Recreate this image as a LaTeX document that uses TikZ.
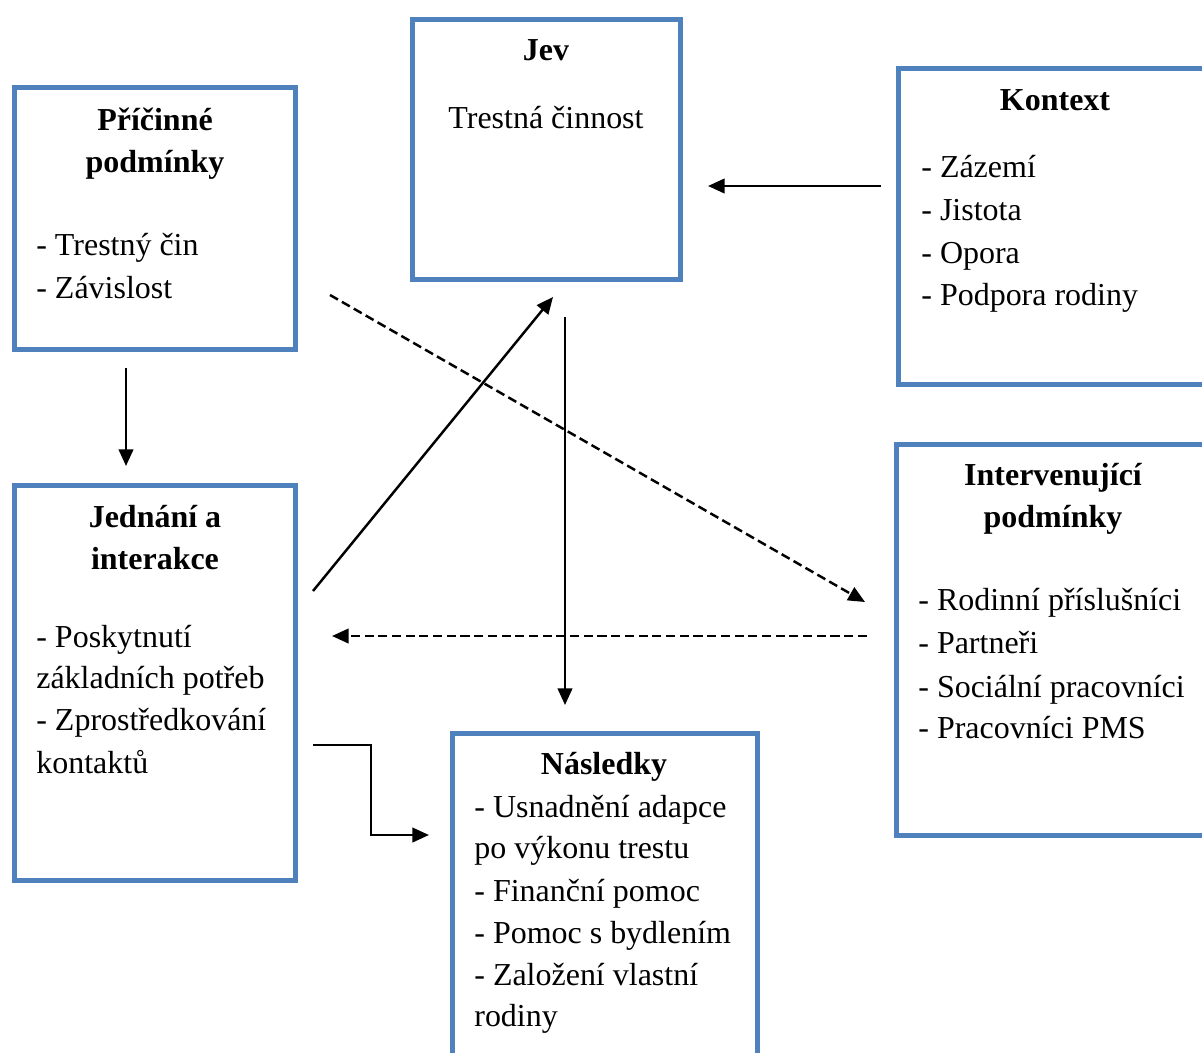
\documentclass[tikz,border=0pt]{standalone}
\usepackage{fontspec}
\setmainfont{Liberation Serif}
\usetikzlibrary{arrows.meta,fit}
\definecolor{boxblue}{RGB}{79,129,189}
\begin{document}
\begin{tikzpicture}[x=0.02cm,y=-0.02cm,
  box/.style={draw=boxblue,line width=2.85pt,inner sep=0pt},
  txt/.style={font=\fontsize{18.2}{22}\selectfont,inner sep=0pt},
  ttl/.style={font=\fontsize{18.2}{22}\selectfont\bfseries,inner sep=0pt,anchor=base},
  item/.style={txt,anchor=base west},
  arr/.style={line width=1.4pt,-{Triangle[length=9.5pt,width=8.3pt]}},
  dsh/.style={arr,dash pattern=on 5.2pt off 2.6pt}]
\useasboundingbox (0,0) rectangle (1202,1052);
\clip (0,0) rectangle (1202,1052);
\fill[white] (0,0) rectangle (1202,1052);
% boxes
\node[box,fit={(14.5,87.5) (295.5,349.5)}] (pric) {};
\node[box,fit={(412.5,19.5) (680.5,279.5)}] (jev) {};
\node[box,fit={(898.5,68.5) (1230,384.5)}] (kon) {};
\node[box,fit={(14.5,485.5) (295.5,880.5)}] (jed) {};
\node[box,fit={(896.5,444.5) (1230,835.5)}] (int) {};
\node[box,fit={(452.5,733.5) (757.5,1090)}] (nas) {};
% Příčinné podmínky
\node[ttl] (pt1) at (155,130) {Příčinné};
\node[ttl] (pt2) at (155,172) {podmínky};
\node[item] (pi1) at (36,255) {- Trestný čin};
\node[item] (pi2) at (36,298) {- Závislost};
% Jev
\node[ttl] (jt1) at (546,60) {Jev};
\node[txt,anchor=base] (jt2) at (546,128) {Trestná činnost};
% Kontext
\node[ttl] (kt1) at (1055,110) {Kontext};
\node[item] (ki1) at (921,177) {- Zázemí};
\node[item] (ki2) at (921,220) {- Jistota};
\node[item] (ki3) at (921,263) {- Opora};
\node[item] (ki4) at (921,305) {- Podpora rodiny};
% Jednání a interakce
\node[ttl] (dt1) at (155,527) {Jednání a};
\node[ttl] (dt2) at (155,569) {interakce};
\node[item] (di1) at (36,647) {- Poskytnutí};
\node[item] (di2) at (36,688) {základních potřeb};
\node[item] (di3) at (36,730) {- Zprostředkování};
\node[item] (di4) at (36,773) {kontaktů};
% Intervenující podmínky
\node[ttl] (it1) at (1053,485) {Intervenující};
\node[ttl] (it2) at (1053,527) {podmínky};
\node[item] (ii1) at (918,610) {- Rodinní příslušníci};
\node[item] (ii2) at (918,653) {- Partneři};
\node[item] (ii3) at (918,697) {- Sociální pracovníci};
\node[item] (ii4) at (918,738) {- Pracovníci PMS};
% Následky
\node[ttl] (nt1) at (604,774) {Následky};
\node[item] (ni1) at (474,817) {- Usnadnění adapce};
\node[item] (ni2) at (474,858) {po výkonu trestu};
\node[item] (ni3) at (474,901) {- Finanční pomoc};
\node[item] (ni4) at (474,943) {- Pomoc s bydlením};
\node[item] (ni5) at (474,985) {- Založení vlastní};
\node[item] (ni6) at (474,1026) {rodiny};
% connector ends
\coordinate (a1s) at (126,368);
\coordinate (a1e) at (126,466);
\coordinate (a2s) at (313,591);
\coordinate (a2e) at (553,297);
\coordinate (a3s) at (565,317);
\coordinate (a3e) at (565,705);
\coordinate (a4s) at (881,186);
\coordinate (a4e) at (708,186);
\coordinate (a5s) at (330,295);
\coordinate (a5e) at (865,602);
\coordinate (a6s) at (867,636);
\coordinate (a6e) at (332,636);
\coordinate (a7s) at (313,745);
\coordinate (a7m) at (371,835);
\coordinate (a7e) at (429,835);
% connectors
\draw[arr] (a1s) -- (a1e);
\draw[arr] (a2s) -- (a2e);
\draw[arr] (a3s) -- (a3e);
\draw[arr] (a4s) -- (a4e);
\draw[dsh] (a5s) -- (a5e);
\draw[dsh] (a6s) -- (a6e);
\draw[arr] (a7s) -| (a7m) -- (a7e);
\end{tikzpicture}
\end{document}
